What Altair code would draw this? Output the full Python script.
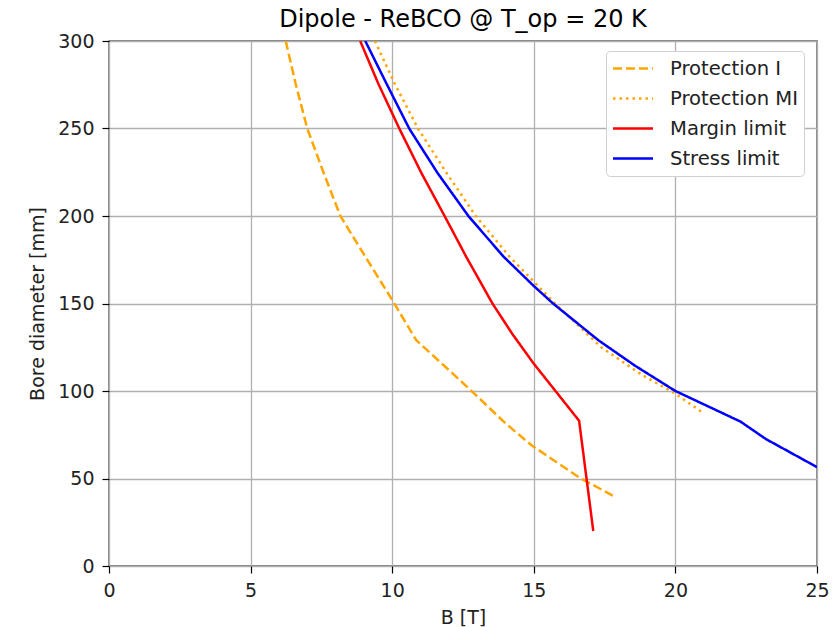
import altair as alt
import pandas as pd

# ---- data ----
series_names = ["Protection I", "Protection MI", "Margin limit", "Stress limit"]

prot_i_B = [6.24, 6.59, 7.0, 7.58, 8.17, 9.05, 10.0, 10.85, 12.0, 13.0, 14.0, 14.92, 16.62, 17.87]
prot_i_D = [300, 275.6, 250, 224.6, 200, 176.8, 152, 129, 112, 97, 81.5, 69, 50.4, 39.5]

prot_mi_B = [9.39, 10.09, 10.91, 11.92, 12.95, 14.14, 15.18, 15.75, 17.38, 18.84, 20.0, 20.9]
prot_mi_D = [300, 275.6, 250, 224.6, 200, 176.8, 159.5, 150, 125, 109, 98.5, 88.3]

margin_B = [8.87, 9.51, 10.25, 11.03, 11.85, 12.61, 13.54, 14.25, 15.0, 16.6, 17.1]
margin_D = [300, 275.6, 250, 224.6, 200, 176.8, 150, 132.4, 115.6, 83, 20]

stress_B = [9.05, 9.80, 10.6, 11.6, 12.69, 13.93, 15.0, 15.68, 17.28, 18.57, 20.0, 21.0, 22.3, 23.2, 25.0]
stress_D = [300, 275.6, 250, 224.6, 200, 176.8, 160, 150, 129, 114.5, 100, 92.4, 82.5, 72.5, 56.5]

x_ticks = [0, 5, 10, 15, 20, 25]
y_ticks = [0, 50, 100, 150, 200, 250, 300]

colors = ["#FFA500", "#FFA500", "#FF0000", "#0000FF"]
dashes = [[9, 4], [2.5, 4], [1, 0], [1, 0]]

rows = []
for name, bs, ds in zip(series_names,
                        [prot_i_B, prot_mi_B, margin_B, stress_B],
                        [prot_i_D, prot_mi_D, margin_D, stress_D]):
    for i, (b, d) in enumerate(zip(bs, ds)):
        rows.append({"series": name, "B": b, "D": d, "order": i})
df = pd.DataFrame(rows)

FONT = "DejaVu Sans"

chart = alt.Chart(df).mark_line(strokeWidth=2.5, clip=True).encode(
    x=alt.X("B:Q", scale=alt.Scale(domain=[0, 25], nice=False, zero=False),
            axis=alt.Axis(title="B [T]", values=x_ticks, format="d")),
    y=alt.Y("D:Q", scale=alt.Scale(domain=[0, 300], nice=False),
            axis=alt.Axis(title="Bore diameter [mm]", values=y_ticks, format="d")),
    color=alt.Color("series:N", scale=alt.Scale(domain=series_names, range=colors),
                    legend=alt.Legend(title=None)),
    strokeDash=alt.StrokeDash("series:N", scale=alt.Scale(domain=series_names, range=dashes),
                              legend=alt.Legend(title=None)),
    order="order:Q",
    detail="series:N",
).properties(
    width=708,
    height=525,
    title=alt.TitleParams("Dipole - ReBCO @ T_op = 20 K", fontSize=24, font=FONT,
                          fontWeight="normal", color="#000000", frame="group",
                          baseline="alphabetic", offset=13, dy=32),
    autosize=alt.AutoSizeParams(type="none"),
    padding={"left": 109, "top": 41, "right": 19, "bottom": 61},
).configure_view(
    stroke="#000000", strokeWidth=1.3
).configure_axis(
    labelFont=FONT, labelFontSize=19, labelColor="#222222",
    titleFont=FONT, titleFontSize=19, titleFontWeight="normal", titleColor="#222222",
    grid=True, gridColor="#b0b0b0", gridWidth=1.3,
    domain=False, ticks=True, tickColor="#000000", tickWidth=1.2, tickSize=7,
    labelPadding=8, labelFlush=False,
).configure_axisX(
    titlePadding=8,
).configure_axisY(
    titlePadding=10,
).configure_legend(
    orient="none", legendX=497, legendY=10,
    labelFont=FONT, labelFontSize=19.6, labelColor="#222222",
    symbolType="stroke", symbolSize=1600, symbolStrokeWidth=2.5,
    clipHeight=24, labelOffset=15.5, rowPadding=6, padding=5.5,
    fillColor="#ffffff", strokeColor="#d0d0d0", cornerRadius=4,
)

chart.save("out.html", embed_options={"renderer": "svg", "actions": False})
